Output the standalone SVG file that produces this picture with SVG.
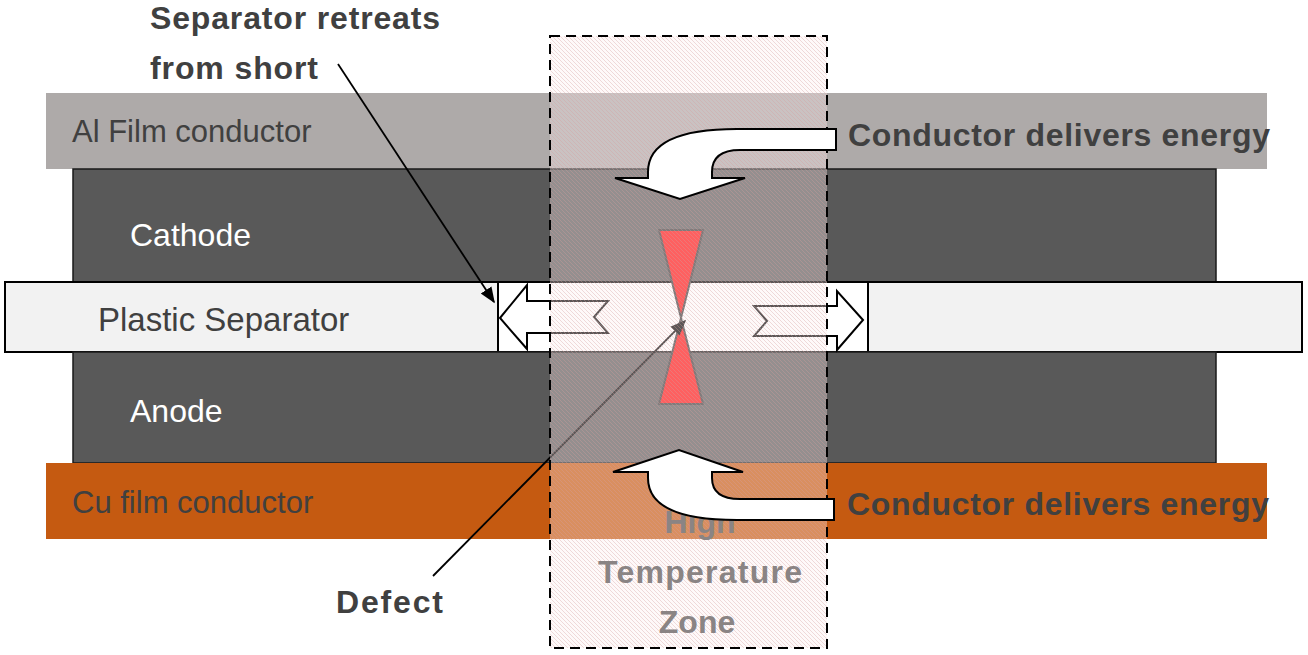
<svg xmlns="http://www.w3.org/2000/svg" width="1308" height="655" viewBox="0 0 1308 655">
  <defs>
    <style>
      .lbl { font-family: "Liberation Sans", Arial, sans-serif; font-size: 31px; fill: #404040; }
      .lblw { font-family: "Liberation Sans", Arial, sans-serif; font-size: 32px; fill: #ffffff; }
      .bold { font-family: "Liberation Sans", Arial, sans-serif; font-size: 32px; font-weight: bold; fill: #404040; }
      .zonet { font-family: "Liberation Sans", Arial, sans-serif; font-size: 32px; font-weight: bold; fill: #8a8484; text-anchor: middle; }
      .layer { stroke: none; }
      .dark { fill: #595959; stroke: #1a1a1a; stroke-width: 1.5; }
      .block { fill: #ffffff; stroke: #000000; stroke-width: 2; stroke-linejoin: miter; }
      .conn { fill: none; stroke: #000000; stroke-width: 1.8; }
    </style>
    <pattern id="hatch" patternUnits="userSpaceOnUse" width="4" height="4">
      <path d="M-1,-1 L5,5 M-1,3 L1,5 M3,-1 L5,1" stroke="#d49c9c" stroke-width="0.8" stroke-opacity="0.45"/>
    </pattern>
    <marker id="ah2" viewBox="0 0 10 10" refX="9" refY="5" markerWidth="16" markerHeight="16" markerUnits="userSpaceOnUse" orient="auto">
      <path d="M0,1 L10,5 L0,9 Z" fill="#000000"/>
    </marker>
  </defs>

  <rect width="1308" height="655" fill="#ffffff"/>

  <g id="al-film">
    <rect class="layer" x="46" y="93" width="1221" height="76" fill="#aeaaa9"/>
    <text class="lbl" x="72" y="142">Al Film conductor</text>
  </g>
  <g id="cathode">
    <rect class="dark" x="73" y="169" width="1143" height="113"/>
    <text class="lblw" x="130" y="246">Cathode</text>
  </g>
  <g id="separator">
    <rect x="5" y="282" width="1297" height="70" fill="#f2f2f2" stroke="#000000" stroke-width="2"/>
    <rect x="498" y="282" width="370" height="70" fill="#ffffff" stroke="#000000" stroke-width="2"/>
    <text class="lbl" x="98" y="331" style="font-size:33px">Plastic Separator</text>
  </g>
  <g id="anode">
    <rect class="dark" x="73" y="352" width="1143" height="111"/>
    <text class="lblw" x="130" y="422">Anode</text>
  </g>
  <g id="cu-film">
    <rect class="layer" x="46" y="463" width="1221" height="76" fill="#c55a11"/>
    <text class="lbl" x="72" y="513">Cu film conductor</text>
  </g>

  <g id="retreat-left">
    <polygon class="block" points="500,318 527,285 527,301 608,301 594,317 608,333 527,333 527,349"/>
  </g>
  <g id="retreat-right">
    <polygon class="block" points="863,320 837,291 837,306 754,306 767,321 754,336 837,336 837,350"/>
  </g>

  <g id="defect-short">
    <polygon points="659,230 703,230 681,318" fill="#ff1010" stroke="#3a3a3a" stroke-width="2" stroke-linejoin="round"/>
    <polygon points="681,318 659,404 703,404" fill="#ff1010" stroke="#3a3a3a" stroke-width="2" stroke-linejoin="round"/>
  </g>

  <g id="connectors">
    <line class="conn" x1="433" y1="576" x2="685" y2="321" marker-end="url(#ah2)"/>
    <line class="conn" x1="338" y1="64" x2="494" y2="302" marker-end="url(#ah2)"/>
  </g>

  <g id="high-temperature-zone">
    <rect x="550" y="36" width="277" height="612" fill="#fbeeee" fill-opacity="0.36"/>
    <rect x="550" y="36" width="277" height="612" fill="url(#hatch)"/>
    <rect x="550" y="36" width="277" height="612" fill="none" stroke="#000000" stroke-width="2" stroke-dasharray="10,6"/>
    <text class="zonet" x="700" y="533">High</text>
    <text class="zonet" x="700" y="583" textLength="204" lengthAdjust="spacing">Temperature</text>
    <text class="zonet" x="697" y="633">Zone</text>
  </g>

  <g id="energy-arrow-top">
    <path class="block" d="M836,129 L737,129 Q648,129 648,172 L648,178 L615,178 L680,199 L745,178 L712,178 L712,172 Q712,150 740,150 L836,150 Z"/>
  </g>
  <g id="energy-arrow-bottom">
    <path class="block" d="M834,499 L740,499 Q712,499 712,478 L712,472 L743,472 L679,450 L613,472 L648,472 L648,478 Q648,520 737,520 L834,520 Z"/>
  </g>

  <g id="label-energy-top">
    <text class="bold" x="848" y="146" textLength="422" lengthAdjust="spacing">Conductor delivers energy</text>
  </g>
  <g id="label-energy-bottom">
    <text class="bold" x="847" y="515" textLength="422" lengthAdjust="spacing">Conductor delivers energy</text>
  </g>
  <g id="label-separator-retreats">
    <text class="bold" x="150" y="29" textLength="290" lengthAdjust="spacing">Separator retreats</text>
    <text class="bold" x="150" y="79" textLength="168" lengthAdjust="spacing">from short</text>
  </g>
  <g id="label-defect">
    <text class="bold" x="336" y="613" textLength="107" lengthAdjust="spacing">Defect</text>
  </g>
</svg>
